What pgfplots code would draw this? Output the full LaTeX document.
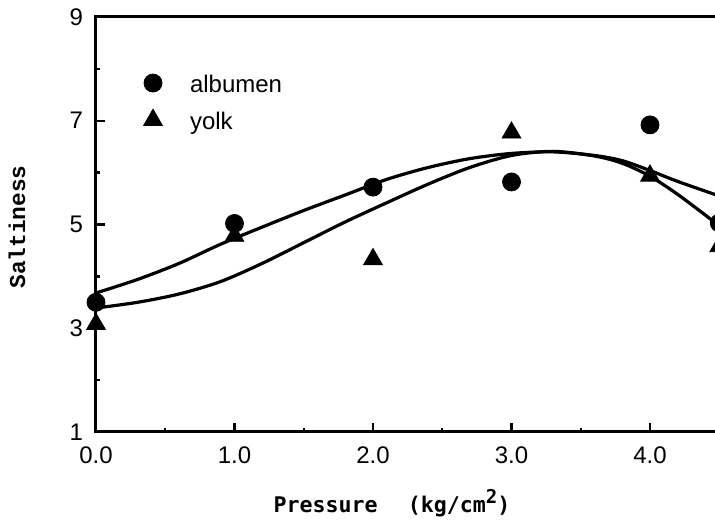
\documentclass[border=0pt]{standalone}
\usepackage{fontspec}
\setmainfont{Liberation Sans}
\newfontfamily\lmono{Liberation Mono}
\newfontfamily\dmono{DejaVu Sans Mono}
\usepackage{pgfplots}
\pgfplotsset{compat=1.18}
\begin{document}
\begin{tikzpicture}
\begin{axis}[
  name=ax,
  scale only axis,
  width=311.625pt, height=207.5pt,
  xmin=0, xmax=4.5, ymin=1, ymax=9,
  xtick={0,1,2,3,4}, ytick={1,3,5,7,9},
  minor x tick num=1, minor y tick num=1,
  tick align=inside, xtick pos=left, ytick pos=left,
  major tick length=4.5pt, minor tick length=2.2pt,
  every tick/.style={line width=1.2pt, black},
  axis line style={line width=1.5pt},
  /pgf/number format/assume math mode=true,
  x tick label style={/pgf/number format/fixed, /pgf/number format/fixed zerofill, /pgf/number format/precision=1, yshift=-4pt},
  y tick label style={xshift=-3pt},
  tick label style={font=\fontsize{12}{14}\selectfont},
  ylabel={\lmono\bfseries Saltiness},
  ylabel style={at={(axis description cs:-0.1268,0.494)}, anchor=center, font=\fontsize{11.4}{13}\selectfont},
  xlabel={\dmono\bfseries Pressure\hspace{1.4em}(kg/cm\raisebox{0.45em}{\fontsize{9.5}{9.5}\selectfont 2})},
  xlabel style={at={(axis description cs:0.475,-0.195)}, anchor=base, font=\fontsize{10.8}{13}\selectfont},
  legend image code/.code={\draw[#1] plot coordinates {(9.25pt,4.5pt)}; \path[draw=none,fill=none] (0pt,-5pt) rectangle (27.75pt,12pt);},
  legend cell align=left,
  legend style={draw=none, fill=none, inner sep=0pt, outer sep=0pt,
    at={(axis description cs:0.0618,0.877)}, anchor=north west,
    font=\fontsize{12}{14}\selectfont, row sep=1.5pt,
    nodes={inner sep=0pt, anchor=base west}},
]
\addplot[only marks, mark=*, mark size=4.5pt, black] coordinates {
  (0,3.50) (1,5.02) (2,5.72) (3,5.82) (4,6.92) (4.5,5.03)};
\addlegendentry{albumen}
\addplot[only marks, mark=triangle*, mark size=5.4pt, black] coordinates {
  (0,3.08) (1,4.78) (2,4.33) (3,6.77) (4,5.94) (4.5,4.58)};
\addlegendentry{yolk}
\addplot[black, line width=1.6pt, smooth, forget plot] coordinates {
  (0,3.68) (0.3,3.94) (0.6,4.25) (0.9,4.62) (1.2,4.95) (1.5,5.27) (1.8,5.57)
  (2.1,5.87) (2.4,6.10) (2.7,6.27) (3.0,6.37) (3.3,6.40) (3.6,6.33) (3.8,6.23)
  (4.0,6.04) (4.2,5.83) (4.5,5.55)};
\addplot[black, line width=1.6pt, smooth, forget plot] coordinates {
  (0,3.39) (0.3,3.50) (0.6,3.66) (0.9,3.90) (1.2,4.25) (1.5,4.65) (1.8,5.05)
  (2.1,5.42) (2.4,5.78) (2.7,6.10) (3.0,6.33) (3.3,6.41) (3.6,6.32) (3.8,6.18)
  (4.0,5.93) (4.2,5.58) (4.4,5.18) (4.5,4.97)};
\end{axis}
\pgfresetboundingbox
\path ([shift={(-48pt,-44pt)}]ax.south west) rectangle ([shift={(309.5pt,8.5pt)}]ax.north west);
\end{tikzpicture}
\end{document}
